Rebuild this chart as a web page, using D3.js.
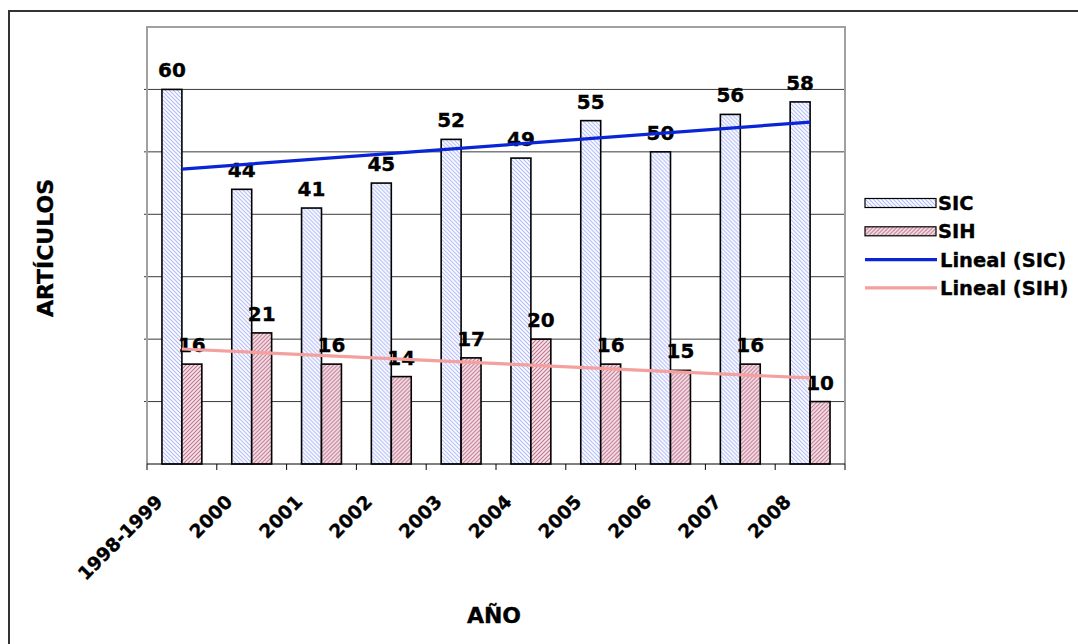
<!DOCTYPE html>
<html>
<head>
<meta charset="utf-8">
<script src="https://cdn.jsdelivr.net/npm/d3@7"></script>
<style>
  html, body { margin: 0; padding: 0; background: #fff; }
  svg { display: block; font-family: "DejaVu Sans", Verdana, sans-serif; font-weight: bold; }
  svg text { stroke: #000; stroke-width: 0.35px; }
</style>
</head>
<body>
<svg id="chart" width="1078" height="644"></svg>
<script>
// artículos per year, SIC vs SIH, with linear trendlines
const years = ["1998-1999", "2000", "2001", "2002", "2003", "2004", "2005", "2006", "2007", "2008"];
const sic = [60, 44, 41, 45, 52, 49, 55, 50, 56, 58];
const sih = [16, 21, 16, 14, 17, 20, 16, 15, 16, 10];
const seriesNames = ["SIC", "SIH"];
const legendLabels = ["SIC", "SIH", "Lineal (SIC)", "Lineal (SIH)"];

const svg = d3.select("#chart");
const plot = { left: 147, right: 845, top: 27, bottom: 464 };

// hatch patterns
const defs = svg.append("defs");
function hatch(id, bg, fg, dir) {
  const p = defs.append("pattern").attr("id", id).attr("patternUnits", "userSpaceOnUse")
    .attr("width", 4).attr("height", 4);
  p.append("rect").attr("width", 4).attr("height", 4).attr("fill", bg);
  const d = dir > 0 ? "M-1,1 l2,-2 M0,4 l4,-4 M3,5 l2,-2" : "M-1,3 l2,2 M0,0 l4,4 M3,-1 l2,2";
  p.append("path").attr("d", d).attr("stroke", fg).attr("stroke-width", 1.1);
}
hatch("pSIC", "#ffffff", "#b0baf8", -1);
hatch("pSIH", "#f6e4ea", "#bf7590", 1);
const fills = { SIC: "url(#pSIC)", SIH: "url(#pSIH)" };

// outer frame (runs off the right and bottom)
svg.append("rect").attr("x", 9).attr("y", 11).attr("width", 1100).attr("height", 700)
  .attr("fill", "none").attr("stroke", "#333").attr("stroke-width", 2);

const x = d3.scaleBand().domain(years).range([plot.left, plot.right]).padding(0);
const xs = d3.scaleBand().domain(seriesNames).range([0, x.bandwidth()]).paddingInner(0).paddingOuter(0.75);
const y = d3.scaleLinear().domain([0, 70]).range([plot.bottom, plot.top]);

// gridlines
svg.append("g").selectAll("line").data(d3.range(10, 70, 10)).join("line")
  .attr("x1", plot.left - 3).attr("x2", plot.right)
  .attr("y1", (d) => y(d)).attr("y2", (d) => y(d))
  .attr("stroke", "#3a3a3a").attr("stroke-width", 1);

// plot area border
svg.append("path")
  .attr("d", `M${plot.left},${plot.bottom}V${plot.top}H${plot.right}V${plot.bottom}`)
  .attr("fill", "none").attr("stroke", "#a0a0a0").attr("stroke-width", 2);

// bars
const rows = years.map((c, i) => ({ cat: c, SIC: sic[i], SIH: sih[i] }));
const grp = svg.append("g").selectAll("g").data(rows).join("g")
  .attr("transform", (d) => `translate(${x(d.cat)},0)`);
grp.selectAll("rect").data((d) => seriesNames.map((k) => ({ k, v: d[k] }))).join("rect")
  .attr("x", (d) => xs(d.k)).attr("width", xs.bandwidth())
  .attr("y", (d) => y(d.v)).attr("height", (d) => y(0) - y(d.v))
  .attr("fill", (d) => fills[d.k]).attr("stroke", "#000").attr("stroke-width", 1.6);

// x axis line + ticks at category boundaries
svg.append("line").attr("x1", plot.left).attr("x2", plot.right)
  .attr("y1", plot.bottom).attr("y2", plot.bottom).attr("stroke", "#000").attr("stroke-width", 1.2);
const tickPos = years.map((c) => x(c)).concat([plot.right]);
svg.append("g").selectAll("line").data(tickPos).join("line")
  .attr("x1", (d) => d).attr("x2", (d) => d)
  .attr("y1", plot.bottom).attr("y2", plot.bottom + 6)
  .attr("stroke", "#000").attr("stroke-width", 1);

// trendlines (least squares over category index)
function trend(vals) {
  const n = vals.length, xi = d3.range(1, n + 1);
  const mx = d3.mean(xi), my = d3.mean(vals);
  const b = d3.sum(xi, (v, i) => (v - mx) * (vals[i] - my)) / d3.sum(xi, (v) => (v - mx) ** 2);
  return [1, n].map((t) => ({ i: t - 1, v: my + b * (t - mx) }));
}
const cx = (i) => x(years[i]) + x.bandwidth() / 2;
const line = d3.line().x((d) => cx(d.i)).y((d) => y(d.v));
svg.append("path").attr("d", line(trend(sic))).attr("stroke", "#0a25d6").attr("stroke-width", 3.2).attr("fill", "none");
svg.append("path").attr("d", line(trend(sih))).attr("stroke", "#f3a09e").attr("stroke-width", 3.2).attr("fill", "none");

// value labels
grp.selectAll("text").data((d) => seriesNames.map((k) => ({ k, v: d[k] }))).join("text")
  .attr("x", (d) => xs(d.k) + xs.bandwidth() / 2).attr("y", (d) => y(d.v) - 12)
  .attr("text-anchor", "middle").attr("font-size", 20).attr("fill", "#000")
  .text((d) => d.v);

// x tick labels, rotated
svg.append("g").selectAll("text").data(years).join("text")
  .attr("transform", (d) => `translate(${x(d) + x.bandwidth() / 2 - 18},503) rotate(-45)`)
  .attr("text-anchor", "end").attr("font-size", 18.5).text((d) => d);

// axis titles
svg.append("text").attr("x", 494).attr("y", 623).attr("text-anchor", "middle")
  .attr("font-size", 22).text("AÑO");
svg.append("text").attr("transform", "translate(53,248) rotate(-90)").attr("text-anchor", "middle")
  .attr("font-size", 22).text("ARTÍCULOS");

// legend
const lg = svg.append("g").attr("transform", "translate(865,203)");
const item = lg.selectAll("g").data(legendLabels).join("g")
  .attr("transform", (d, i) => `translate(0,${i * 28.3})`);
item.each(function (d, i) {
  const g = d3.select(this);
  if (i < 2) {
    g.append("rect").attr("x", 0).attr("y", -4.5).attr("width", 71).attr("height", 9)
      .attr("fill", fills[seriesNames[i]]).attr("stroke", "#000").attr("stroke-width", 1.2);
  } else {
    g.append("line").attr("x1", 0).attr("x2", 72).attr("y1", 0).attr("y2", 0)
      .attr("stroke", i === 2 ? "#0a25d6" : "#f3a09e").attr("stroke-width", 3.2);
  }
  g.append("text").attr("x", i < 2 ? 73 : 75).attr("dy", "0.36em").attr("font-size", 19.5).text(d);
});
</script>
</body>
</html>
